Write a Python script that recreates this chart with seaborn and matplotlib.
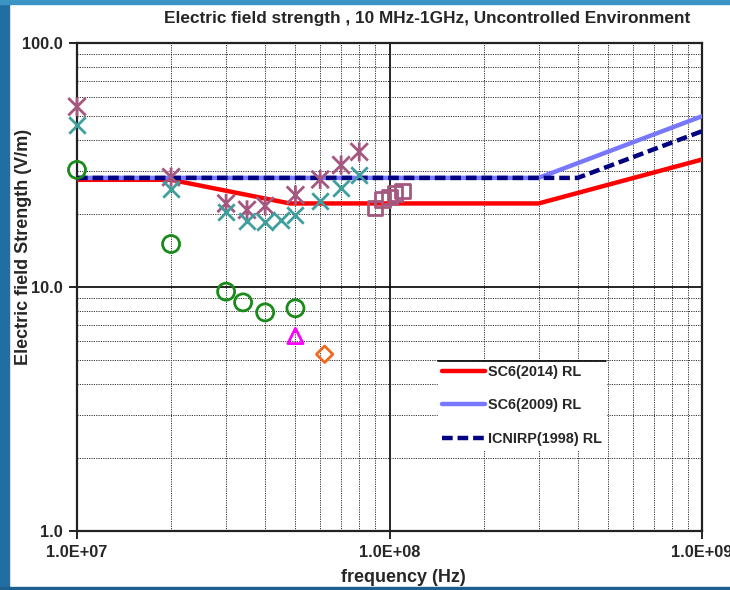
import numpy as np
import pandas as pd
import seaborn as sns
import matplotlib
matplotlib.use("Agg")
import matplotlib.pyplot as plt
from matplotlib.path import Path
from matplotlib.patches import Rectangle
from matplotlib.ticker import FixedLocator, NullFormatter, FuncFormatter

# reference levels (break points, log-log straight segments)
sc6_2014_f = [1e7, 2e7, 4.8e7, 3e8, 1e9]
sc6_2014_e = [27.5, 27.5, 22.0, 22.0, 33.3]
sc6_2009_f = [1e7, 3e8, 1e9]
sc6_2009_e = [28.0, 28.0, 50.1]
icnirp_f = [1e7, 4e8, 1e9]
icnirp_e = [28.0, 28.0, 43.5]

# measurements
star_f = [1e7, 2e7, 3e7, 3.5e7, 4e7, 5e7, 6e7, 7e7, 8e7]
star_e = [54.8, 28.2, 22.0, 20.7, 21.5, 23.8, 27.6, 31.6, 35.8]
cross_f = [1e7, 2e7, 3e7, 3.5e7, 4e7, 4.5e7, 5e7, 6e7, 7e7, 8e7]
cross_e = [46.1, 25.1, 20.2, 18.7, 18.5, 18.9, 19.7, 22.5, 25.4, 28.8]
circle_f = [1e7, 2e7, 3e7, 3.4e7, 4e7, 5e7]
circle_e = [30.2, 15.0, 9.57, 8.65, 7.87, 8.18]
tri_f = [5e7]
tri_e = [6.3]
diamond_f = [6.2e7]
diamond_e = [5.3]
square_f = [9e7, 9.5e7, 1e8, 1.04e8, 1.1e8]
square_e = [21.1, 22.8, 23.4, 24.2, 24.7]

sns.set_style("white")
plt.rcParams['font.family'] = ['Liberation Sans', 'DejaVu Sans']
plt.rcParams['font.weight'] = 'bold'

fig = plt.figure(figsize=(7.3, 5.9), dpi=100)
ax = fig.add_axes([77 / 730, 1 - 531 / 590, 625 / 730, 488 / 590])
ax.set_xscale("log")
ax.set_yscale("log")
ax.set_xlim(1e7, 1e9)
ax.set_ylim(1, 100)

# grid
ax.xaxis.set_minor_locator(FixedLocator([m * 10 ** d for d in (7, 8) for m in range(2, 10)]))
ax.yaxis.set_minor_locator(FixedLocator([m * 10 ** d for d in (0, 1) for m in range(2, 10)]))
ax.grid(which="minor", color="#333333", linestyle=(0, (1.2, 1.2)), linewidth=0.7)
ax.grid(which="major", color="black", linestyle="-", linewidth=1.2)
ax.set_axisbelow(True)

sns.lineplot(x=sc6_2014_f, y=sc6_2014_e, color="#ff0000", linewidth=3.2,
             label="SC6(2014) RL", ax=ax, zorder=3)
sns.lineplot(x=sc6_2009_f, y=sc6_2009_e, color="#7878ff", linewidth=3.2,
             label="SC6(2009) RL", ax=ax, zorder=3)
sns.lineplot(x=icnirp_f, y=icnirp_e, color="#000080", linewidth=3.2,
             dashes=False, label="ICNIRP(1998) RL", ax=ax, zorder=4)
ax.lines[-1].set_dashes((2.4, 1.1))

mauve = "#a5587f"
teal = "#3f9f9f"
star = Path([(-1, -1), (1, 1), (-1, 1), (1, -1), (0, -1.1), (0, 1.1)],
            [Path.MOVETO, Path.LINETO, Path.MOVETO, Path.LINETO, Path.MOVETO, Path.LINETO])

common = dict(ax=ax, zorder=5, clip_on=False, linewidth=2)
sns.scatterplot(x=star_f, y=star_e, marker=star, s=190, facecolor="none",
                edgecolor=mauve, **common)
sns.scatterplot(x=cross_f, y=cross_e, marker="x", s=140, color=teal, **common)
sns.scatterplot(x=circle_f, y=circle_e, marker="o", s=150, facecolor="none",
                edgecolor="#1a8a1a", **common)
sns.scatterplot(x=tri_f, y=tri_e, marker="^", s=120, facecolor="none",
                edgecolor="#ff00ff", **common)
sns.scatterplot(x=diamond_f, y=diamond_e, marker="D", s=70, facecolor="none",
                edgecolor="#f06a1e", **common)
sns.scatterplot(x=square_f, y=square_e, marker="s", s=110, facecolor="none",
                edgecolor=mauve, **common)

# axes cosmetics
for sp in ax.spines.values():
    sp.set_color("#222222")
    sp.set_linewidth(1.6)
ax.xaxis.set_major_locator(FixedLocator([1e7, 1e8, 1e9]))
ax.yaxis.set_major_locator(FixedLocator([1, 10, 100]))
ax.xaxis.set_major_formatter(FuncFormatter(lambda v, p: "%.1E" % v))
ax.yaxis.set_major_formatter(FuncFormatter(lambda v, p: "%.1f" % v))
ax.xaxis.set_minor_formatter(NullFormatter())
ax.yaxis.set_minor_formatter(NullFormatter())
ax.tick_params(which="major", direction="out", length=6, width=1.4, color="#222222",
               labelsize=11.8, pad=4, bottom=True, left=True)
ax.tick_params(which="minor", length=0)
for lab in ax.get_xticklabels() + ax.get_yticklabels():
    lab.set_fontweight("bold")

ax.set_xlabel("frequency (Hz)", fontsize=13, fontweight="bold", va="center")
ax.xaxis.set_label_coords((403 - 77) / 625, (531 - 578) / 488)
ax.set_ylabel("Electric field Strength (V/m)", fontsize=13, fontweight="bold", va="center")
ax.yaxis.set_label_coords((24 - 77) / 625, (531 - 247) / 488)
fig.text(427 / 730, 1 - 18 / 590, "Electric field strength , 10 MHz-1GHz, Uncontrolled Environment",
         ha="center", va="center", fontsize=12.4, fontweight="bold")

leg = ax.legend(loc="upper left", bbox_to_anchor=(0.578, 0.348), borderaxespad=0,
                frameon=True, fancybox=False, framealpha=1, edgecolor="white",
                prop={"size": 10.4, "weight": "bold"}, handlelength=3.0,
                handletextpad=0.2, labelspacing=1.35, borderpad=0.25)
fig.canvas.draw()
bb = leg.get_frame().get_window_extent().transformed(fig.transFigure.inverted())
fig.add_artist(plt.Line2D([bb.x0, bb.x1], [bb.y1, bb.y1], color="black", linewidth=1.2))

# slide frame
fig.add_artist(Rectangle((0, 0), 9 / 730, 1, transform=fig.transFigure,
                         color="#1f6fa3", zorder=10))
fig.add_artist(Rectangle((0, 1 - 4 / 590), 1, 4 / 590, transform=fig.transFigure,
                         color="#3a94c4", zorder=10))
fig.add_artist(Rectangle((0, 0), 1, 3 / 590, transform=fig.transFigure,
                         color="#1f5f90", zorder=10))

fig.savefig("out.png", dpi=100)
